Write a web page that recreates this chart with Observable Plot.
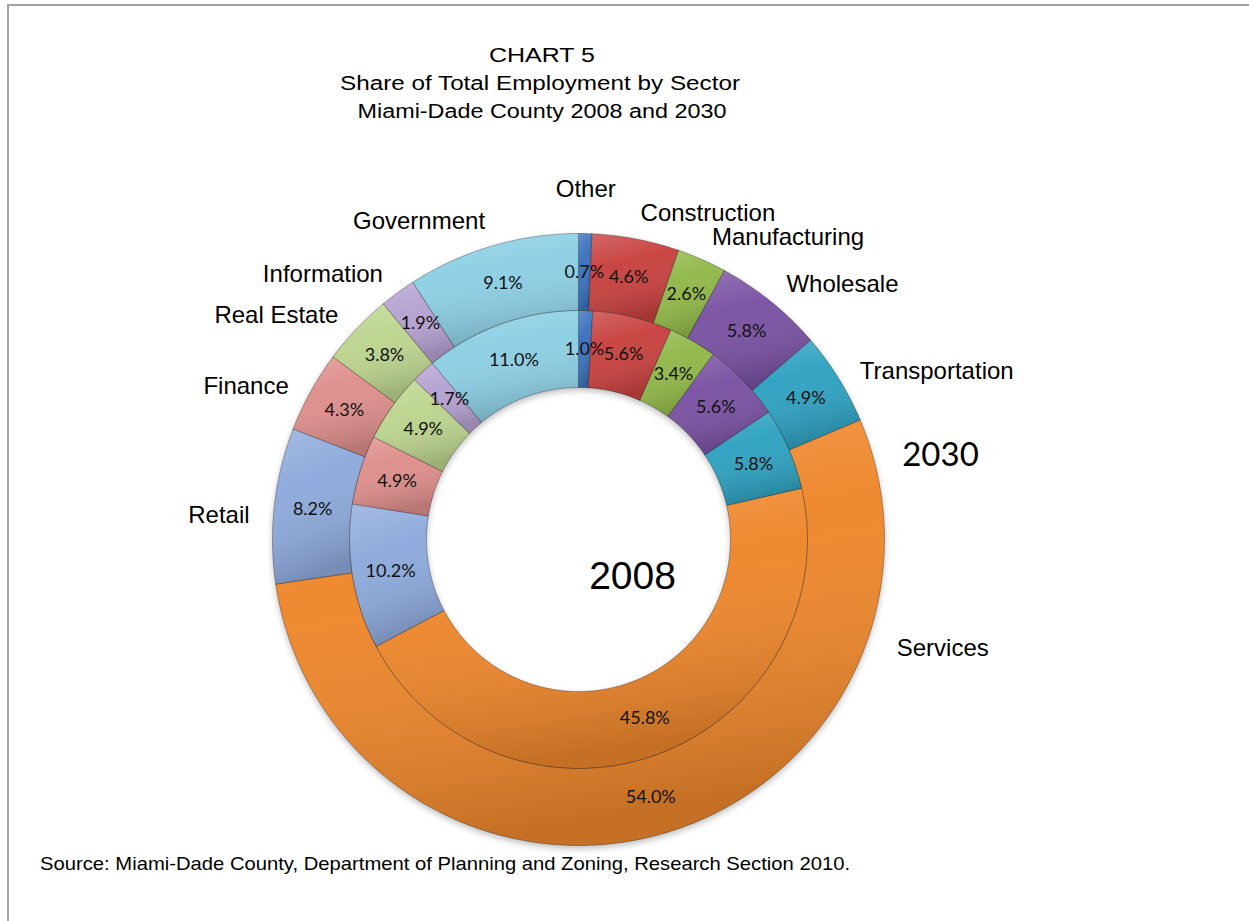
<!DOCTYPE html>
<html>
<head>
<meta charset="utf-8">
<script src="https://cdn.jsdelivr.net/npm/d3@7"></script>
<script src="https://cdn.jsdelivr.net/npm/@observablehq/plot@0.6"></script>
<style>
  body { margin: 0; background: #fff; }
  #wrap { position: relative; width: 1249px; height: 921px; overflow: hidden; background: #fff; }
  #frame { position: absolute; left: 7px; top: 4px; width: 1400px; height: 1100px;
           border-top: 2px solid #a3a3a3; border-left: 2px solid #a3a3a3; }
  #chart { position: absolute; left: 0; top: 0; }
  #texts { position: absolute; left: 0; top: 0; pointer-events: none; }
</style>
</head>
<body>
<div id="wrap">
  <div id="frame"></div>
  <div id="chart"></div>
  <svg id="texts" width="1249" height="921"></svg>
</div>
<script>
// ---------------- data ----------------
const sectors = ["Other", "Construction", "Manufacturing", "Wholesale", "Transportation",
                 "Services", "Retail", "Finance", "Real Estate", "Information", "Government"];
const share2008 = [1.0, 5.6, 3.4, 5.6, 5.8, 45.8, 10.2, 4.9, 4.9, 1.7, 11.0];
const share2030 = [0.7, 4.6, 2.6, 5.8, 4.9, 54.0, 8.2, 4.3, 3.8, 1.9, 9.1];
const yearLabels = ["2008", "2030"];
const titleLines = ["CHART 5", "Share of Total Employment by Sector", "Miami-Dade County 2008 and 2030"];
const sourceText = "Source:  Miami-Dade County, Department of Planning and Zoning, Research Section 2010.";

// ---------------- styles ----------------
const sectorColors = ["#3a72bd", "#c8423f", "#92b84a", "#7a52a3", "#2fa2c1",
                      "#ee872c", "#8eaadb", "#de8f8c", "#bdd58f", "#b6a3d2", "#8dcfe4"];

// ---------------- geometry ----------------
const W = 1249, H = 921, CX = 578, CY = 539, PX = 306; // px per unit (outer radius = 1)
const rings = {
  "2008": {values: share2008, r0: 152 / PX, r1: 229 / PX},
  "2030": {values: share2030, r0: 229 / PX, r1: 1}
};

const arcPts = [], pctLabels = [], slices = [];
for (const year of yearLabels) {
  const {values, r0, r1} = rings[year];
  const total = d3.sum(values);
  let acc = 0;
  values.forEach((v, i) => {
    const a0 = acc / total, a1 = (acc + v) / total;
    acc += v;
    const n = Math.max(2, Math.ceil((a1 - a0) * 720));
    const key = year + "-" + sectors[i];
    const ring = [];
    for (let k = 0; k <= n; k++) ring.push([r1, a0 + (a1 - a0) * k / n]);
    for (let k = n; k >= 0; k--) ring.push([r0, a0 + (a1 - a0) * k / n]);
    ring.push(ring[0]);
    for (const [r, t] of ring) {
      arcPts.push({key, sector: sectors[i], x: r * Math.sin(2 * Math.PI * t), y: r * Math.cos(2 * Math.PI * t)});
    }
    const tm = (a0 + a1) / 2, rm = (r0 + r1) / 2;
    pctLabels.push({text: v.toFixed(1) + "%", x: rm * Math.sin(2 * Math.PI * tm), y: rm * Math.cos(2 * Math.PI * tm)});
    slices.push({year, sector: sectors[i], a0, a1});
  });
}

// category labels placed just outside the outer (2030) ring
const catLabels = slices.filter(d => d.year === "2030").map(d => {
  const span = d.a1 - d.a0;
  const t = span > 0.25 ? d.a0 + 0.2 * span : d.a0 + span / 2;
  const rx = 1 + 25 / PX, ry = 1 + 40 / PX;
  const s = Math.sin(2 * Math.PI * t);
  return {sector: d.sector, x: rx * s, y: ry * Math.cos(2 * Math.PI * t),
          anchor: s > 0.1 ? "start" : s < -0.1 ? "end" : "middle"};
});

const font = "Liberation Sans, Arial, sans-serif";
const catMark = a => Plot.text(catLabels.filter(d => d.anchor === a),
  {x: "x", y: "y", text: "sector", textAnchor: a, fontFamily: font, fontSize: 24, fill: "#000", dy: a === "middle" ? -4 : 14});

const plot = Plot.plot({
  width: W, height: H, margin: 0,
  x: {domain: [-CX / PX, (W - CX) / PX], axis: null},
  y: {domain: [-(H - CY) / PX, CY / PX], axis: null},
  color: {domain: sectors, range: sectorColors},
  style: {background: "transparent", overflow: "visible"},
  marks: [
    Plot.line(arcPts, {x: "x", y: "y", z: "key", fill: "sector", stroke: "#000", strokeOpacity: 0.3, strokeWidth: 1}),
    Plot.line(arcPts, {x: "x", y: "y", z: "key", fill: "url(#bevel)", stroke: "none"}),
    Plot.text(pctLabels, {x: "x", y: "y", text: "text", fontFamily: "Lato, sans-serif", fontSize: 18, fill: "#111"}),
    catMark("start"), catMark("end"), catMark("middle"),
    Plot.text([yearLabels[0]], {x: (632 - CX) / PX, y: (CY - 576) / PX, text: d => d, fontFamily: font, fontSize: 39, fill: "#000"}),
    Plot.text([yearLabels[1]], {x: (940 - CX) / PX, y: (CY - 455) / PX, text: d => d, fontFamily: "Lato, sans-serif", fontSize: 33, fill: "#000"})
  ]
});

const ns = "http://www.w3.org/2000/svg";
const defs = document.createElementNS(ns, "defs");
defs.innerHTML = `<linearGradient id="bevel" x1="0" y1="0" x2="0.25" y2="1">
  <stop offset="0" stop-color="#fff" stop-opacity="0.2"/>
  <stop offset="0.4" stop-color="#fff" stop-opacity="0.02"/>
  <stop offset="1" stop-color="#000" stop-opacity="0.17"/>
</linearGradient>`;
plot.insertBefore(defs, plot.firstChild);
const firstLine = plot.querySelector('g[aria-label="line"]');
if (firstLine) firstLine.style.filter = "drop-shadow(0px 3px 3px rgba(0,0,0,0.25))";
document.getElementById("chart").appendChild(plot);

// ---------------- title & source ----------------
const T = d3.select("#texts");
const titleSpec = [{x: 542, y: 62, w: 106}, {x: 540, y: 90, w: 400}, {x: 542, y: 118, w: 369}];
titleLines.forEach((t, i) => {
  T.append("text").attr("x", titleSpec[i].x).attr("y", titleSpec[i].y)
    .attr("text-anchor", "middle").attr("font-family", font).attr("font-size", 20)
    .attr("textLength", titleSpec[i].w).attr("lengthAdjust", "spacingAndGlyphs")
    .attr("fill", "#000").text(t);
});
T.append("text").attr("x", 40).attr("y", 870).attr("font-family", font).attr("font-size", 19)
  .attr("textLength", 810).attr("lengthAdjust", "spacingAndGlyphs").attr("fill", "#000").text(sourceText);
</script>
</body>
</html>
